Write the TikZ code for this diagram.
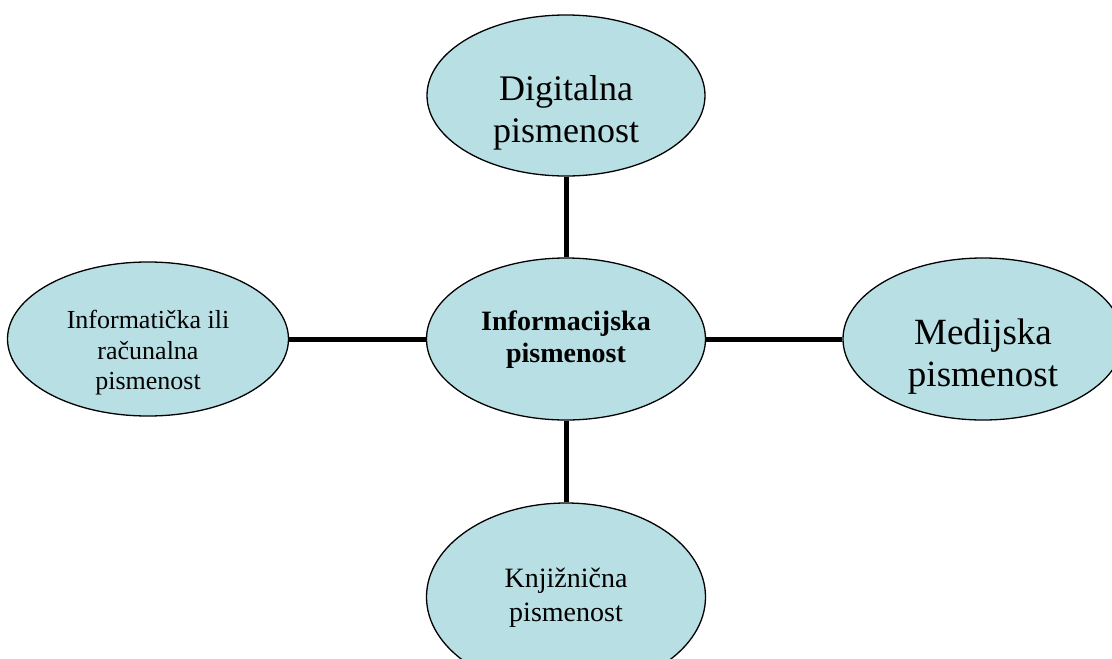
\documentclass[tikz,border=0pt]{standalone}
\usepackage{fontspec}
\setmainfont{Liberation Serif}
\usetikzlibrary{shapes.geometric}
\definecolor{ellfill}{RGB}{184,223,227}
\tikzset{
  bubble/.style={ellipse, draw=black, line width=1.3pt, fill=ellfill, inner sep=0pt},
  txt/.style={inner sep=0pt, align=center},
  link/.style={line width=5pt, black}
}
\begin{document}
\begin{tikzpicture}[x=1pt,y=-1pt]
\useasboundingbox (0,0) rectangle (1112,659);
\clip (0,0) rectangle (1112,659);
% ellipses
\node[bubble, minimum width=278pt, minimum height=161pt] (dig) at (566,95.5) {};
\node[bubble, minimum width=279pt, minimum height=162pt] (inf) at (566,339) {};
\node[bubble, minimum width=281pt, minimum height=154pt] (rac) at (148,339) {};
\node[bubble, minimum width=280pt, minimum height=162pt] (med) at (983,339) {};
\node[bubble, minimum width=279pt, minimum height=188pt] (knj) at (566,597) {};
% connectors
\draw[link] (dig) -- (inf);
\draw[link] (rac) -- (inf);
\draw[link] (inf) -- (med);
\draw[link] (inf) -- (knj);
% texts
\node[txt, font=\fontsize{36}{42}\selectfont] (digt) at (566,113) {Digitalna\\pismenost};
\node[txt, font=\fontsize{28}{32}\selectfont\bfseries] (inft) at (566,339.5) {Informacijska\\pismenost};
\node[txt, font=\fontsize{26}{30.5}\selectfont] (ract) at (148,353) {Informatička ili\\računalna\\pismenost};
\node[txt, font=\fontsize{37}{42}\selectfont] (medt) at (983,357) {Medijska\\pismenost};
\node[txt, font=\fontsize{28}{34}\selectfont] (knjt) at (566,598) {Knjižnična\\pismenost};
\end{tikzpicture}
\end{document}
